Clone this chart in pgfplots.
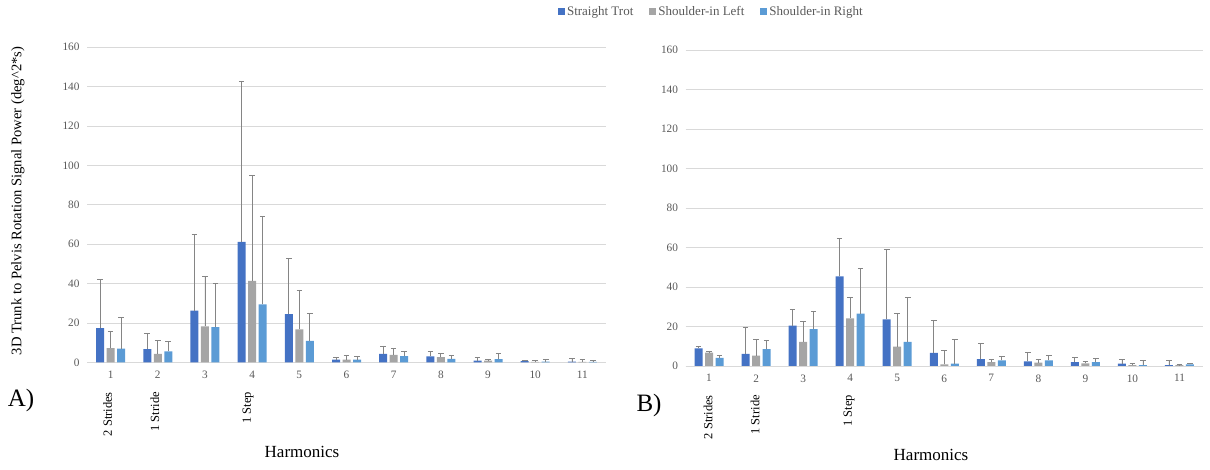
\documentclass[border=0pt]{standalone}
\usepackage{pgfplots}
\pgfplotsset{compat=1.18}
\usepackage{pgfplotstable}
\usepackage{fontspec}
\setmainfont{Liberation Serif}
\definecolor{cST}{HTML}{4472C4}
\definecolor{cSL}{HTML}{A5A5A5}
\definecolor{cSR}{HTML}{5B9BD5}
\definecolor{tickgray}{HTML}{595959}
\definecolor{gridgray}{HTML}{D9D9D9}
\definecolor{errgray}{HTML}{858585}

\pgfplotstableread{
x y ey
1 17.5 24.5
2 6.8 7.8
3 26.3 38.7
4 61.2 81.7
5 24.6 28.4
6 1.5 1.1
7 4.4 4.0
8 3.1 2.7
9 1.0 1.6
10 0.7 0.5
11 0.5 1.5
}\AST
\pgfplotstableread{
x y ey
1 7.3 8.7
2 4.4 7.0
3 18.3 25.4
4 41.4 53.6
5 16.8 20.0
6 1.5 2.1
7 3.9 3.3
8 2.7 1.9
9 0.9 0.8
10 0.3 0.6
11 0.3 1.1
}\ASL
\pgfplotstableread{
x y ey
1 7.0 16.0
2 5.6 5.1
3 18.0 22.2
4 29.5 44.7
5 11.0 13.7
6 1.5 1.6
7 3.2 2.6
8 1.9 1.9
9 1.7 2.9
10 0.5 0.9
11 0.3 0.6
}\ASR
\pgfplotstableread{
x y ey
1 8.9 1.2
2 6.1 13.5
3 20.4 8.1
4 45.4 19.4
5 23.6 35.5
6 6.6 16.5
7 3.5 8.1
8 2.4 4.5
9 2.0 2.2
10 1.2 2.2
11 0.5 2.2
}\BST
\pgfplotstableread{
x y ey
1 6.75 0.85
2 5.2 8.3
3 12.2 10.4
4 24.1 10.8
5 9.8 16.7
6 0.8 7.1
7 2.0 1.4
8 1.7 1.7
9 1.35 0.85
10 0.5 0.85
11 0.5 0.2
}\BSL
\pgfplotstableread{
x y ey
1 4.05 1.35
2 8.6 4.4
3 18.7 8.8
4 26.5 22.8
5 12.2 22.7
6 1.2 12.1
7 2.9 1.8
8 2.9 2.3
9 2.0 1.9
10 0.5 2.2
11 0.8 0.55
}\BSR

\tikzset{annot/.style={font=\fontsize{12.5}{14}\selectfont, inner sep=0pt, anchor=east}}
\pgfplotsset{
  panel/.style={
    scale only axis,
    clip=false,
    ybar=2.5pt,
    bar width=8pt,
    xmin=0.5, xmax=11.5,
    ymin=0, ymax=160,
    xtick={1,...,11},
    ytick={0,20,...,160},
    ymajorgrids,
    grid style={gridgray, line width=0.8pt},
    axis x line*=bottom,
    axis y line*=left,
    x axis line style={gridgray, line width=0.8pt, -},
    y axis line style={draw=none},
    major tick length=0pt,
    /pgf/number format/assume math mode=true,
    tick label style={font=\fontsize{11.3}{13}\selectfont, text=tickgray},
    xticklabel style={yshift=-5pt},
    yticklabel style={xshift=-4pt},
    error bars/y dir=plus,
    error bars/y explicit,
    error bars/error bar style={errgray, line width=0.8pt},
    error bars/error mark options={rotate=90, mark size=2.8pt, errgray, line width=0.8pt},
    legend image code/.code={\fill[##1] (0pt,-3.5pt) rectangle (7pt,3.5pt);},
  },
}

\begin{document}
\begin{tikzpicture}[x=1pt,y=1pt]
\useasboundingbox (0,0) rectangle (1210,470);

\begin{axis}[panel, width=519pt, height=315.2pt, at={(87pt,107.5pt)}, anchor=south west,
  legend columns=3,
  legend style={at={(1.203,1.112)}, anchor=center, draw=none, fill=none,
    font=\fontsize{13}{15}\selectfont, text=tickgray,
    /tikz/every even column/.append style={column sep=14pt}},
  ]
\addplot[fill=cST, draw=none] table[x=x,y=y,y error=ey] {\AST};
\addplot[fill=cSL, draw=none] table[x=x,y=y,y error=ey] {\ASL};
\addplot[fill=cSR, draw=none] table[x=x,y=y,y error=ey] {\ASR};
\legend{Straight Trot, Shoulder-in Left, Shoulder-in Right}
\node[annot, rotate=90] at ([xshift=-3pt, yshift=-29.5pt]axis cs:1,0) {2 Strides};
\node[annot, rotate=90] at ([xshift=-3pt, yshift=-29.5pt]axis cs:2,0) {1 Stride};
\node[annot, rotate=90] at ([xshift=-4pt, yshift=-29.5pt]axis cs:4,0) {1 Step};
\end{axis}

\begin{axis}[panel, width=517.5pt, height=316pt, at={(685.5pt,104pt)}, anchor=south west]
\addplot[fill=cST, draw=none] table[x=x,y=y,y error=ey] {\BST};
\addplot[fill=cSL, draw=none] table[x=x,y=y,y error=ey] {\BSL};
\addplot[fill=cSR, draw=none] table[x=x,y=y,y error=ey] {\BSR};
\node[annot, rotate=90] at ([xshift=-1pt, yshift=-29pt]axis cs:1,0) {2 Strides};
\node[annot, rotate=90] at ([xshift=-1pt, yshift=-29pt]axis cs:2,0) {1 Stride};
\node[annot, rotate=90] at ([xshift=-1pt, yshift=-29pt]axis cs:4,0) {1 Step};
\end{axis}

\node[rotate=90, font=\fontsize{14.6}{16}\selectfont] at (18,269) {3D Trunk to Pelvis Rotation Signal Power (deg\textasciicircum2*s)};
\node[font=\fontsize{25}{28}\selectfont] at (21,70) {A)};
\node[font=\fontsize{25}{28}\selectfont] at (649,65) {B)};
\node[font=\fontsize{17}{20}\selectfont] at (302,18) {Harmonics};
\node[font=\fontsize{17}{20}\selectfont] at (931,15) {Harmonics};
\end{tikzpicture}
\end{document}
